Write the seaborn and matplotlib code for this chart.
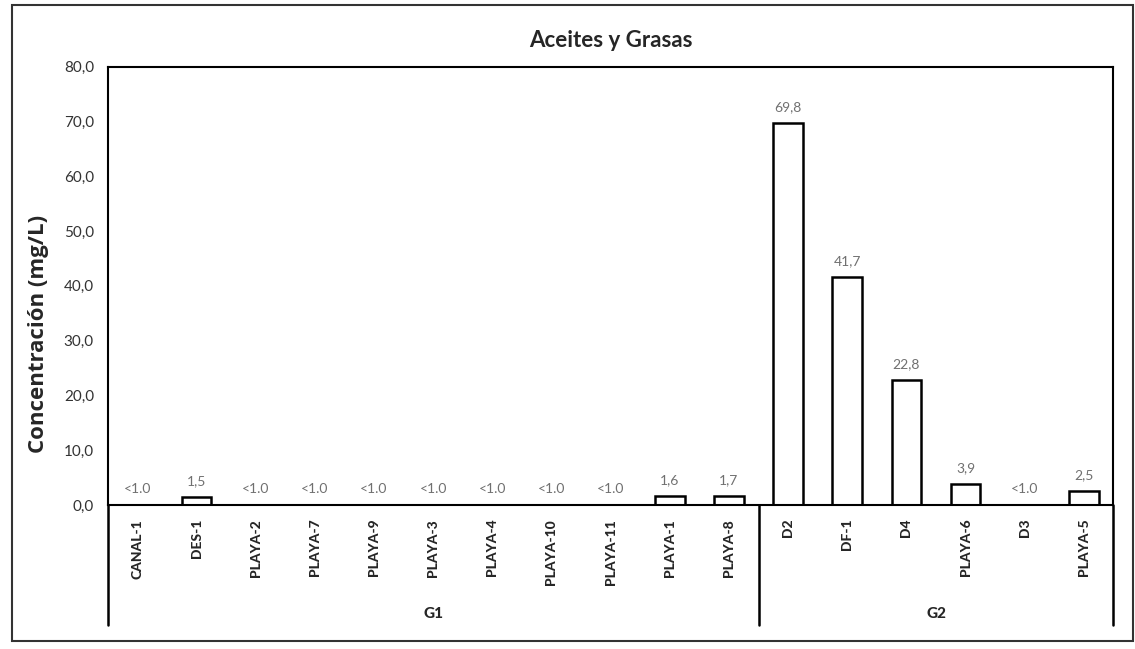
import matplotlib
matplotlib.use("Agg")
import matplotlib.pyplot as plt
import matplotlib.ticker as mticker
from matplotlib.patches import Rectangle
import seaborn as sns
import pandas as pd

# datos
estaciones_g1 = ['CANAL-1', 'DES-1', 'PLAYA-2', 'PLAYA-7', 'PLAYA-9', 'PLAYA-3',
                 'PLAYA-4', 'PLAYA-10', 'PLAYA-11', 'PLAYA-1', 'PLAYA-8']
estaciones_g2 = ['D2', 'DF-1', 'D4', 'PLAYA-6', 'D3', 'PLAYA-5']
valores_g1 = [0.0, 1.5, 0.0, 0.0, 0.0, 0.0, 0.0, 0.0, 0.0, 1.6, 1.7]
valores_g2 = [69.8, 41.7, 22.8, 3.9, 0.0, 2.5]
etiquetas_g1 = ['<1.0', '1,5', '<1.0', '<1.0', '<1.0', '<1.0', '<1.0', '<1.0', '<1.0', '1,6', '1,7']
etiquetas_g2 = ['69,8', '41,7', '22,8', '3,9', '<1.0', '2,5']
grupos = ['G1', 'G2']
y_ticks = [0, 10, 20, 30, 40, 50, 60, 70, 80]

df = pd.DataFrame({
    'estacion': estaciones_g1 + estaciones_g2,
    'valor': valores_g1 + valores_g2,
    'etiqueta': etiquetas_g1 + etiquetas_g2,
    'grupo': ['G1'] * len(estaciones_g1) + ['G2'] * len(estaciones_g2),
})

sns.set_style('white')
plt.rcParams['font.family'] = ['Lato', 'DejaVu Sans']

fig = plt.figure(figsize=(11.35, 6.49), dpi=100)
ax = fig.add_axes([0.095, 0.222, 0.886, 0.675])

sns.barplot(data=df, x='estacion', y='valor', color='white', edgecolor='black',
            linewidth=1.8, width=0.5, ax=ax)

# etiquetas de valor
for i, (v, t) in enumerate(zip(df['valor'], df['etiqueta'])):
    ax.annotate(t, (i, v), xytext=(0, 7), textcoords='offset points',
                ha='center', va='bottom', fontsize=10, color='#707070')

ax.set_ylim(0, 80)
ax.set_xlim(-0.5, len(df) - 0.5)
ax.set_yticks(y_ticks)
ax.yaxis.set_major_formatter(mticker.FuncFormatter(lambda v, p: f'{v:.1f}'.replace('.', ',')))
ax.tick_params(axis='y', length=0, labelsize=11, pad=10, labelcolor='#333333')
ax.tick_params(axis='x', length=0, pad=10)
ax.set_xticks(range(len(df)))
ax.set_xticklabels(df['estacion'], rotation=90, fontsize=10, fontweight='black')
ax.set_xlabel('')
ax.set_ylabel('Concentración (mg/L)', fontsize=16, fontweight='bold',
              family=['Open Sans', 'DejaVu Sans'])
ax.yaxis.set_label_coords(-0.058, 0.39)
ax.set_title('Aceites y Grasas', fontsize=16, fontweight='bold', pad=14)

for s in ax.spines.values():
    s.set_color('black')
    s.set_linewidth(1.5)

# lineas de grupo debajo del eje
trans = ax.get_xaxis_transform()
bajo = -0.274
n1 = len(estaciones_g1)
for xpos in [-0.5, n1 - 0.5, len(df) - 0.5]:
    ax.plot([xpos, xpos], [0, bajo], color='black', lw=1.8, transform=trans, clip_on=False)
centros = [(n1 - 1) / 2, n1 + (len(estaciones_g2) - 1) / 2]
for g, c in zip(grupos, centros):
    ax.text(c, -0.25, g, transform=trans, ha='center', va='center',
            fontsize=11, fontweight='black')

# marco exterior
fig.patches.append(Rectangle((0.011, 0.012), 0.987, 0.98, transform=fig.transFigure,
                             fill=False, edgecolor='#333333', linewidth=1.5))

fig.savefig('out.png', dpi=100)
